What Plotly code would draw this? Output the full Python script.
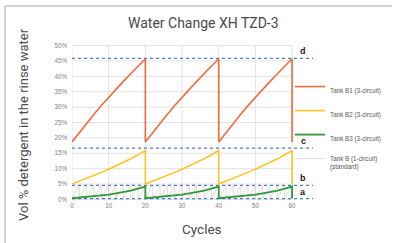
import plotly.graph_objects as go

# ---------------- data ----------------
cycle_pos = [0, 2, 4, 6, 8, 10, 12, 14, 16, 18, 20]          # position within one 20-cycle period
period_starts = [0, 20, 40]
tank_b1 = [18.7, 21.8, 24.8, 27.7, 30.5, 33.2, 35.8, 38.35, 40.85, 43.3, 45.7]
tank_b2 = [5.0, 5.9, 6.8, 7.8, 8.8, 9.8, 10.9, 12.0, 13.2, 14.5, 15.9]
tank_b3 = [0.4, 0.6, 0.8, 1.0, 1.3, 1.6, 2.0, 2.4, 2.9, 3.5, 4.2]

tank_b_pos = [0, 2]          # 1-circuit standard: sawtooth every 2 cycles
tank_b_vals = [0.3, 4.6]
tank_b_starts = list(range(0, 60, 2))

ref_labels = ["d", "c", "b", "a"]
ref_levels = [45.8, 16.7, 4.6, 0.3]

x_ticks = [0, 10, 20, 30, 40, 50, 60]
y_ticks = [0, 5, 10, 15, 20, 25, 30, 35, 40, 45, 50]
y_tick_text = ["%d%%" % v for v in y_ticks]

# ---------------- helpers ----------------
def periodic(pos, vals, starts, end_x=None):
    xs, ys = [], []
    for s in starts:
        xs += [s + p for p in pos]
        ys += list(vals)
    if end_x is not None:
        xs.append(end_x)
        ys.append(vals[0])
    return xs, ys

W, H = 398, 243
ML, MR, MT, MB = 72, 85, 44, 42
X_RANGE = [0, 65.7]
Y_RANGE = [-0.5, 50.5]

def px_x(p):
    return (p - ML) / (W - ML - MR)

def px_y(p):
    return (H - MB - p) / (H - MT - MB)

fig = go.Figure()

# Tank B standard (light hatch-like sawtooth), drawn first so it sits behind
xb, yb = periodic(tank_b_pos, tank_b_vals, tank_b_starts, end_x=60)
fig.add_trace(go.Scatter(x=xb, y=yb, mode="lines", name="Tank B (1-circuit)<br>(standard)",
                         legendrank=4, legendgroup="g4",
                         line=dict(color="#d4d4d4", width=0.8)))

# reference dotted lines
for lab, lev in zip(ref_labels, ref_levels):
    fig.add_trace(go.Scatter(x=[X_RANGE[0], X_RANGE[1]], y=[lev, lev], mode="lines",
                             line=dict(color="#4a7bd0", width=1.3, dash="dot"),
                             showlegend=False, hoverinfo="skip"))

x1, y1 = periodic(cycle_pos, tank_b1, period_starts, end_x=60)
x2, y2 = periodic(cycle_pos, tank_b2, period_starts, end_x=60)
x3, y3 = periodic(cycle_pos, tank_b3, period_starts, end_x=60)

fig.add_trace(go.Scatter(x=x1, y=y1, mode="lines", name="Tank B1 (3-circuit)",
                         legendrank=1, legendgroup="g1",
                         line=dict(color="#f2693a", width=1.6)))
fig.add_trace(go.Scatter(x=x2, y=y2, mode="lines", name="Tank B2 (3-circuit)",
                         legendrank=2, legendgroup="g2",
                         line=dict(color="#ffc423", width=1.6)))
fig.add_trace(go.Scatter(x=x3, y=y3, mode="lines", name="Tank B3 (3-circuit)",
                         legendrank=3, legendgroup="g3",
                         line=dict(color="#2f9a3c", width=1.8)))

# grid lines limited to the 0-60 / 0-50 area
shapes = []
for xv in x_ticks:
    shapes.append(dict(type="line", xref="x", yref="y", x0=xv, x1=xv, y0=0, y1=50,
                       line=dict(color="#dcdcdc", width=0.8), layer="below"))
for yv in y_ticks:
    shapes.append(dict(type="line", xref="x", yref="y", x0=0, x1=60, y0=yv, y1=yv,
                       line=dict(color="#dcdcdc", width=0.8), layer="below"))
# outer frame (top and left)
shapes.append(dict(type="line", xref="paper", yref="paper", x0=px_x(5), x1=px_x(392),
                   y0=px_y(6), y1=px_y(6), line=dict(color="#a8a8a8", width=1)))
shapes.append(dict(type="line", xref="paper", yref="paper", x0=px_x(5), x1=px_x(5),
                   y0=px_y(6), y1=px_y(243), line=dict(color="#a8a8a8", width=1)))

annotations = []
for lab, lev in zip(ref_labels, ref_levels):
    annotations.append(dict(x=63, y=lev, xref="x", yref="y", text="<b>%s</b>" % lab,
                            showarrow=False, yanchor="bottom", xanchor="center", yshift=0,
                            font=dict(family="Liberation Sans", size=9, color="#1a1a1a")))
annotations.append(dict(x=px_x(23), y=px_y(125), xref="paper", yref="paper",
                        text="Vol % detergent in the rinse water", textangle=-90,
                        showarrow=False, xanchor="center", yanchor="middle",
                        font=dict(family="Roboto", size=13, color="#4a4a4a")))
annotations.append(dict(x=px_x(202), y=px_y(229), xref="paper", yref="paper",
                        text="Cycles", showarrow=False, xanchor="center", yanchor="middle",
                        font=dict(family="Roboto", size=13.5, color="#4a4a4a")))
annotations.append(dict(x=px_x(203), y=px_y(23), xref="paper", yref="paper",
                        text="Water Change XH TZD-3", showarrow=False,
                        xanchor="center", yanchor="middle",
                        font=dict(family="Roboto", size=14, color="#4a4a4a")))

fig.update_layout(
    width=W, height=H,
    margin=dict(l=ML, r=MR, t=MT, b=MB),
    paper_bgcolor="white", plot_bgcolor="white",
    shapes=shapes, annotations=annotations,
    legend=dict(x=px_x(290), y=px_y(76), xanchor="left", yanchor="top",
                font=dict(family="Liberation Sans", size=6.3, color="#595959"),
                bgcolor="rgba(0,0,0,0)", tracegroupgap=5, traceorder="grouped",
                valign="top"),
    xaxis=dict(range=X_RANGE, showgrid=False, zeroline=False, showline=False,
               tickmode="array", tickvals=x_ticks, ticks="",
               tickfont=dict(family="Liberation Sans", size=6.3, color="#7f7f7f")),
    yaxis=dict(range=Y_RANGE, showgrid=False, zeroline=False, showline=False,
               tickmode="array", tickvals=y_ticks, ticktext=y_tick_text, ticks="",
               ticklabelstandoff=4,
               tickfont=dict(family="Liberation Sans", size=6.3, color="#7f7f7f")),
)

fig.write_html("out.html", config={"displayModeBar": False},
               post_script="document.body.style.margin='0';document.body.style.overflow='hidden';")
